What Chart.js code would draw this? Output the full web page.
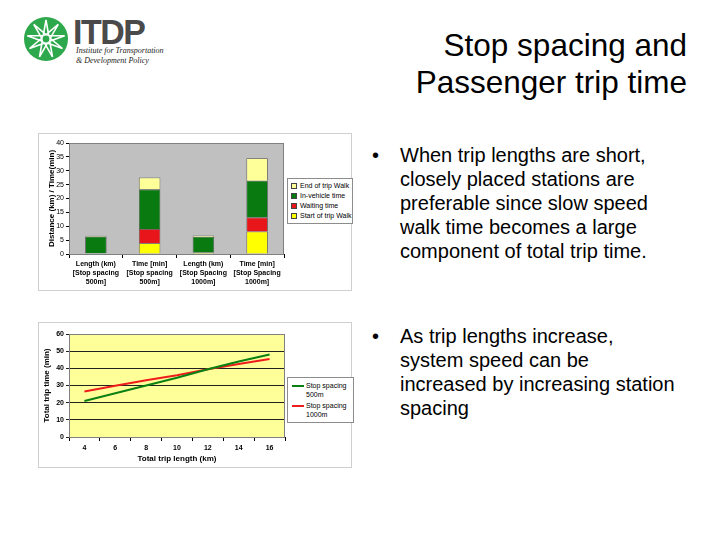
<!DOCTYPE html>
<html>
<head>
<meta charset="utf-8">
<script src="https://cdn.jsdelivr.net/npm/chart.js@4.4.1/dist/chart.umd.min.js"></script>
<style>
  html, body { margin:0; padding:0; background:#fff; }
  body { width:720px; height:540px; position:relative; overflow:hidden; font-family:"Liberation Sans", Arial, sans-serif; color:#000; }
  .abs { position:absolute; }
  .title { right:33px; top:27px; font-size:31.5px; line-height:37px; text-align:right; white-space:nowrap; }
  .bullets { left:372px; font-size:20px; line-height:24px; }
  .bullets .dot { position:absolute; left:0; top:0; }
  .bullets .txt { position:absolute; left:28px; top:0; white-space:nowrap; }
  .box { border:1px solid #cfcfcf; background:#fff; }
  .legend { border:1px solid #8c8c8c; background:#fff; font-size:7px; line-height:10px; padding:2px 2px 2px 3px; }
  .legend .row { white-space:nowrap; display:flex; align-items:center; }
  .legend .sw { display:inline-block; flex-shrink:0; width:4px; height:4px; border:1px solid #444; margin-right:3px; }
  .legend .ln { display:inline-block; flex-shrink:0; width:12px; height:2px; margin-right:2px; }
  .logoTxt { left:73px; top:12px; font-weight:bold; font-size:35px; color:#4a4a4a; letter-spacing:-1.5px; transform:scaleX(0.97); transform-origin:left top; }
  .logoSub { left:76px; top:46px; font-family:"Liberation Serif","DejaVu Serif",serif; font-style:italic; font-size:8px; line-height:9.5px; color:#222; }
</style>
</head>
<body>
<svg class="abs" style="left:20px;top:14px" width="52" height="52" viewBox="0 0 52 52">
  <circle cx="26" cy="25" r="22" fill="#2ea84c"/>
  <g id="star" stroke="#fff" stroke-width="1.6" fill="none"></g>
  <circle cx="26" cy="25" r="4" fill="#2ea84c" stroke="#fff" stroke-width="1.2"/>
</svg>
<div class="abs logoTxt">ITDP</div>
<div class="abs logoSub">Institute for Transportation<br>&amp; Development Policy</div>

<div class="abs title">Stop spacing and<br>Passenger trip time</div>

<div class="abs bullets" style="top:143px">
  <span class="dot">•</span>
  <div class="txt">When trip lengths are short,<br>closely placed stations are<br>preferable since slow speed<br>walk time becomes a large<br>component of total trip time.</div>
</div>
<div class="abs bullets" style="top:324px">
  <span class="dot">•</span>
  <div class="txt">As trip lengths increase,<br>system speed can be<br>increased by increasing station<br>spacing</div>
</div>

<div class="abs box" style="left:38px;top:133px;width:312px;height:156px">
  <canvas id="c1" width="312" height="156"></canvas>
</div>
<div class="abs legend" id="lg1" style="left:287px;top:178px;width:59px"></div>

<div class="abs box" style="left:38px;top:322px;width:312px;height:144px">
  <canvas id="c2" width="312" height="144"></canvas>
</div>
<div class="abs legend" id="lg2" style="left:287px;top:377px;width:59px;line-height:9px;padding:3px 2px 3px 4px"></div>

<script>
// ---------- data ----------
const barCategories = [
  ["Length (km)", "[Stop spacing", "500m]"],
  ["Time [min]", "[Stop spacing", "500m]"],
  ["Length (km)", "[Stop Spacing", "1000m]"],
  ["Time [min]", "[Stop Spacing", "1000m]"]
];
const startWalk = [0.25, 3.9, 0.5, 8.1];
const waitingTime = [0, 5.1, 0, 5.1];
const inVehicle = [6.1, 14.3, 5.7, 13.2];
const endWalk = [0.25, 4.3, 0.5, 8.1];
const barTicks = [0, 5, 10, 15, 20, 25, 30, 35, 40];

const tripLength = ["4", "6", "8", "10", "12", "14", "16"];
const spacing500 = [21, 25.5, 30, 34.5, 39.5, 44, 48];
const spacing1000 = [26.5, 29.8, 33, 36, 39.5, 42.5, 45.5];
const lineTicks = [0, 10, 20, 30, 40, 50, 60];

// ---------- logo star ----------
(function(){
  const g = document.getElementById('star');
  const n = 9, cx = 26, cy = 25, r = 19;
  let d = '';
  for (let i = 0; i <= n; i++) {
    const k = (i * 4) % n;
    const a = -Math.PI/2 + k * 2*Math.PI/n;
    d += (i ? 'L' : 'M') + (cx + r*Math.cos(a)).toFixed(2) + ' ' + (cy + r*Math.sin(a)).toFixed(2);
  }
  const p = document.createElementNS('http://www.w3.org/2000/svg','path');
  p.setAttribute('d', d + 'Z');
  g.appendChild(p);
})();

Chart.defaults.font.family = '"Liberation Sans", Arial, sans-serif';
Chart.defaults.color = '#000';
Chart.defaults.animation = false;

const plotBg = {
  id: 'plotBg',
  beforeDraw(chart, args, o) {
    const {ctx, chartArea: a} = chart;
    ctx.save(); ctx.fillStyle = o.color; ctx.fillRect(a.left, a.top, a.width, a.height); ctx.restore();
  },
  afterDatasetsDraw(chart, args, o) {
    const {ctx, chartArea: a} = chart;
    ctx.save(); ctx.strokeStyle = o.border; ctx.lineWidth = 1;
    ctx.strokeRect(Math.round(a.left)+0.5, Math.round(a.top)+0.5, Math.round(a.width)-1, Math.round(a.height));
    ctx.restore();
  }
};

// ---------- chart 1 ----------
const ds1 = [
  {label: 'Start of trip Walk', data: startWalk, backgroundColor: '#FFFF00'},
  {label: 'Waiting time', data: waitingTime, backgroundColor: '#E8161B'},
  {label: 'In-vehicle time', data: inVehicle, backgroundColor: '#087A10'},
  {label: 'End of trip Walk', data: endWalk, backgroundColor: '#FFFF99'}
];
ds1.forEach(d => { d.borderColor = 'rgba(40,40,40,0.7)'; d.borderWidth = 0.8; d.barPercentage = 0.4; d.categoryPercentage = 1.0; });

new Chart(document.getElementById('c1'), {
  type: 'bar',
  data: {labels: barCategories, datasets: ds1},
  plugins: [plotBg],
  options: {
    responsive: false,
    layout: {padding: {top: 9, right: 67, left: 0, bottom: 0}},
    plugins: {legend: {display: false}, tooltip: {enabled: false}, plotBg: {color: '#C0C0C0', border: '#808080'}},
    scales: {
      x: {
        stacked: true,
        afterFit(s) { s.height = 36; },
        grid: {offset: true, drawOnChartArea: false, drawTicks: true, tickLength: 4, color: '#000'},
        border: {color: '#000'},
        ticks: {font: {size: 7, weight: 'bold', lineHeight: 1.25}, padding: 2, maxRotation: 0, autoSkip: false}
      },
      y: {
        stacked: true, min: 0, max: 40,
        afterFit(s) { s.width = 30; },
        afterBuildTicks(s) { s.ticks = barTicks.map(v => ({value: v})); },
        grid: {drawOnChartArea: false, drawTicks: true, tickLength: 3, color: '#000'},
        border: {color: '#000'},
        ticks: {font: {size: 7}, padding: 2},
        title: {display: true, text: 'Distance (km) / Time(min)', font: {size: 8, weight: 'bold'}, padding: {top: 8, bottom: 0}}
      }
    }
  }
});

// ---------- chart 2 ----------
const ds2 = [
  {label: 'Stop spacing 500m', data: spacing500, borderColor: '#0A7F12'},
  {label: 'Stop spacing 1000m', data: spacing1000, borderColor: '#EE1C1C'}
];
ds2.forEach(d => { d.borderWidth = 2; d.pointRadius = 0; d.fill = false; d.tension = 0; });

new Chart(document.getElementById('c2'), {
  type: 'line',
  data: {labels: tripLength, datasets: ds2},
  plugins: [plotBg],
  options: {
    responsive: false,
    layout: {padding: {top: 11, right: 66, left: 0, bottom: 0}},
    plugins: {legend: {display: false}, tooltip: {enabled: false}, plotBg: {color: '#FFFF99', border: '#808080'}},
    scales: {
      x: {
        offset: true,
        afterFit(s) { s.height = 30; },
        grid: {offset: true, drawOnChartArea: false, drawTicks: true, tickLength: 4, color: '#000'},
        border: {color: '#000'},
        ticks: {font: {size: 7, weight: 'bold'}, padding: 3, maxRotation: 0},
        title: {display: true, text: 'Total trip length (km)', font: {size: 8, weight: 'bold'}, padding: {top: 0, bottom: 3}}
      },
      y: {
        min: 0, max: 60,
        afterFit(s) { s.width = 30; },
        afterBuildTicks(s) { s.ticks = lineTicks.map(v => ({value: v})); },
        grid: {drawOnChartArea: true, drawTicks: true, tickLength: 3, color: '#222'},
        border: {color: '#000'},
        ticks: {font: {size: 7, weight: 'bold'}, padding: 2},
        title: {display: true, text: 'Total trip time (min)', font: {size: 8, weight: 'bold'}, padding: {top: 3, bottom: 0}}
      }
    }
  }
});

// ---------- HTML legends ----------
const lg1 = document.getElementById('lg1');
ds1.slice().reverse().forEach(d => {
  const r = document.createElement('div'); r.className = 'row';
  r.innerHTML = '<span class="sw" style="background:' + d.backgroundColor + '"></span>' + d.label;
  lg1.appendChild(r);
});
const lg2 = document.getElementById('lg2');
ds2.forEach((d, i) => {
  const parts = d.label.split(' ');
  const r = document.createElement('div');
  r.style.marginBottom = i === 0 ? '2px' : '0';
  r.innerHTML = '<div class="row"><span class="ln" style="background:' + d.borderColor + '"></span>' + parts[0] + ' ' + parts[1] + '</div>' +
                '<div style="padding-left:14px;white-space:nowrap">' + parts[2] + '</div>';
  lg2.appendChild(r);
});
</script>
</body>
</html>
